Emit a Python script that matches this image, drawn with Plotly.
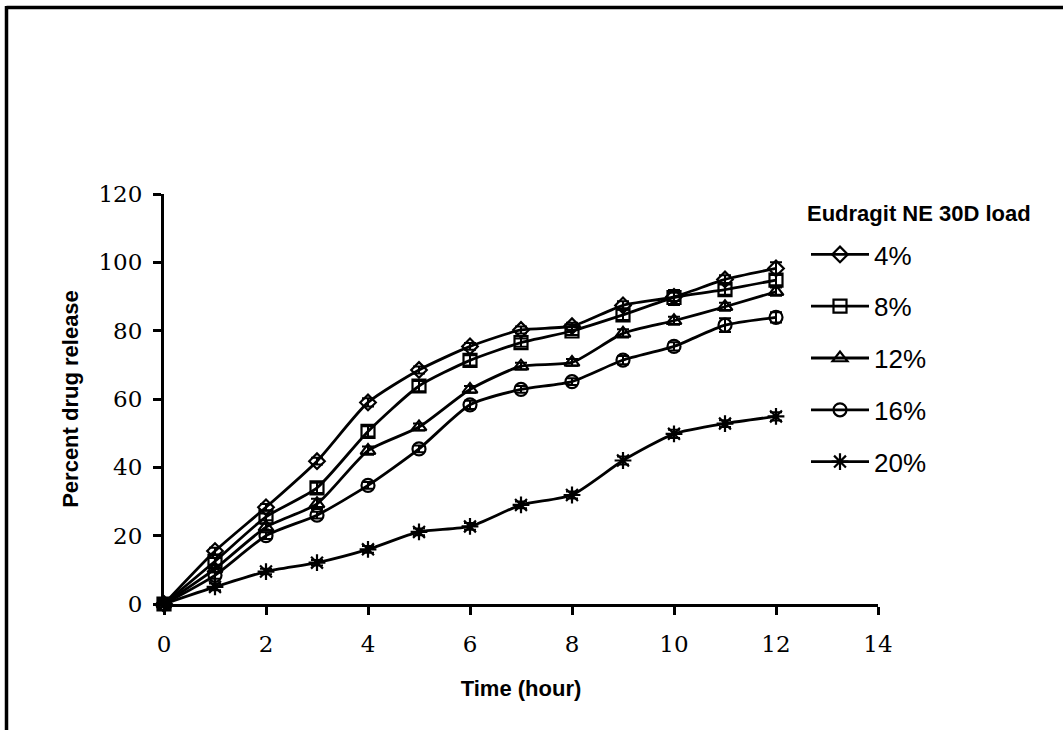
import plotly.graph_objects as go

time_h = [0, 1, 2, 3, 4, 5, 6, 7, 8, 9, 10, 11, 12]
labels = ["4%", "8%", "12%", "16%", "20%"]
rel_4 = [0, 15.5, 28.3, 41.8, 59.0, 68.5, 75.4, 80.2, 81.3, 87.4, 89.9, 95.0, 98.2]
rel_8 = [0, 12.5, 25.5, 34.0, 50.5, 63.8, 71.3, 76.5, 79.9, 84.6, 89.7, 92.0, 94.8]
rel_12 = [0, 10.3, 22.5, 29.3, 44.9, 51.8, 62.8, 69.6, 70.7, 79.2, 82.9, 87.0, 91.4]
rel_16 = [0, 8.4, 20.0, 26.0, 34.7, 45.4, 58.3, 62.8, 65.1, 71.4, 75.4, 81.6, 83.9]
rel_20 = [0, 5.0, 9.5, 12.1, 16.0, 21.1, 22.7, 29.0, 31.9, 42.0, 49.8, 52.8, 54.9]
err_4 = [0, 1.0, 1.0, 1.0, 1.2, 1.0, 1.0, 1.0, 1.0, 1.2, 1.2, 1.2, 1.8]
err_8 = [0, 1.0, 1.0, 1.5, 1.5, 1.5, 1.5, 1.2, 1.2, 1.5, 2.2, 1.5, 1.5]
err_12 = [0, 1.0, 1.0, 1.5, 1.2, 1.0, 1.0, 1.0, 1.0, 1.2, 1.2, 1.2, 1.2]
err_16 = [0, 1.0, 1.0, 1.0, 1.0, 1.0, 1.2, 1.0, 1.0, 1.2, 1.2, 2.0, 1.5]
err_20 = [0, 1.0, 0.8, 0.8, 1.0, 1.0, 1.0, 1.0, 1.0, 1.2, 1.2, 1.0, 1.2]
x_ticks = [0, 2, 4, 6, 8, 10, 12, 14]
y_ticks = [0, 20, 40, 60, 80, 100, 120]
legend_title = "Eudragit NE 30D load"

series = [rel_4, rel_8, rel_12, rel_16, rel_20]
errors = [err_4, err_8, err_12, err_16, err_20]
symbols = ["diamond-open", "square-open", "triangle-up-open", "circle-open", "asterisk-open"]
sizes = [12, 13, 13, 13, 14]

W, H = 1063, 730
pw, ph = 714, 410
L = 164
T = 194
R = W - L - pw
B = H - T - ph

def px_x(p):
    return (p - L) / pw

def px_y(p):
    return (T + ph - p) / ph

fig = go.Figure()
for i, (lab, ys, es) in enumerate(zip(labels, series, errors)):
    fig.add_trace(go.Scatter(
        x=time_h, y=ys, name=lab, mode="lines+markers",
        line=dict(color="black", width=2.8, shape="spline", smoothing=0.6),
        marker=dict(symbol=symbols[i], size=sizes[i], color="black",
                    line=dict(color="black", width=2.2)),
        error_y=dict(type="data", array=es, visible=True, color="black",
                     thickness=2, width=6),
        legendgroup=lab, cliponaxis=False,
    ))

fig.update_layout(
    width=W, height=H,
    margin=dict(l=L, r=R, t=T, b=B, pad=0),
    paper_bgcolor="white", plot_bgcolor="white",
    showlegend=True,
    legend=dict(x=px_x(806), y=px_y(231), xanchor="left", yanchor="top",
                font=dict(family="Liberation Sans, Arial", size=26, color="black"),
                tracegroupgap=15, bgcolor="rgba(0,0,0,0)", itemwidth=58),
    xaxis=dict(range=[0, 14], tickvals=x_ticks, ticktext=[str(v) for v in x_ticks],
               showgrid=False, zeroline=False, showline=True, linecolor="black",
               linewidth=3, ticks="outside", ticklen=8, tickwidth=3, tickcolor="black",
               tickfont=dict(family="DejaVu Serif", size=23, color="black"),
               ticklabelstandoff=9,
               title=dict(text="<b>Time (hour)</b>", standoff=26,
                          font=dict(family="Liberation Sans, Arial", size=22, color="black"))),
    yaxis=dict(range=[0, 120], tickvals=y_ticks, ticktext=[str(v) for v in y_ticks],
               showgrid=False, zeroline=False, showline=True, linecolor="black",
               linewidth=3, ticks="outside", ticklen=8, tickwidth=3, tickcolor="black",
               tickfont=dict(family="DejaVu Serif", size=23, color="black"),
               ticklabelstandoff=6,
               title=dict(text="<b>Percent drug release</b>", standoff=14,
                          font=dict(family="Liberation Sans, Arial", size=22, color="black"))),
    annotations=[dict(text="<b>" + legend_title + "</b>", xref="paper", yref="paper",
                      x=px_x(919), y=px_y(213), xanchor="center", yanchor="middle",
                      showarrow=False,
                      font=dict(family="Liberation Sans, Arial", size=22, color="black"))],
    shapes=[
        dict(type="line", xref="paper", yref="paper", x0=px_x(6.5), x1=px_x(1080),
             y0=px_y(7.5), y1=px_y(7.5), line=dict(color="black", width=3.5)),
        dict(type="line", xref="paper", yref="paper", x0=px_x(6.5), x1=px_x(6.5),
             y0=px_y(6), y1=px_y(760), line=dict(color="black", width=3.5)),
    ],
)

fig.write_html("out.html", config={"displayModeBar": False},
               post_script="document.body.style.margin='0px';")
